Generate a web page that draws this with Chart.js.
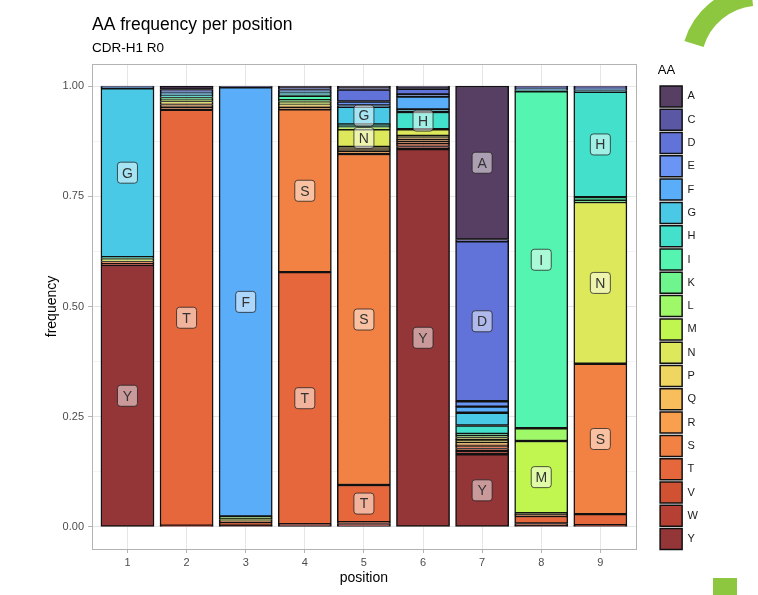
<!DOCTYPE html>
<html>
<head>
<meta charset="utf-8">
<script src="https://cdn.jsdelivr.net/npm/chart.js@4/dist/chart.umd.min.js"></script>
<style>
  html, body { margin: 0; padding: 0; background: #fff; overflow: hidden; }
  #wrap { position: relative; width: 758px; height: 595px; }
  #aa { position: absolute; left: 0; top: 0; }
  #deco { position: absolute; left: 0; top: 0; pointer-events: none; }
</style>
</head>
<body>
<div id="wrap">
  <canvas id="aa" width="758" height="595"></canvas>
  <svg id="deco" width="758" height="595">
    <path d="M 694 44 A 68 68 0 0 1 752 -4" fill="none" stroke="#8dc63f" stroke-width="20"/>
    <rect x="713" y="578" width="24" height="17" fill="#8dc63f"/>
  </svg>
</div>
<script>
// AA frequency per position, CDR-H1 R0 – gestapelte Anteile je Aminosäure

const titleText = 'AA frequency per position';
const subtitleText = 'CDR-H1 R0';

const positions = [1, 2, 3, 4, 5, 6, 7, 8, 9];
const aminoAcids = ['A', 'C', 'D', 'E', 'F', 'G', 'H', 'I', 'K', 'L', 'M', 'N', 'P', 'Q', 'R', 'S', 'T', 'V', 'W', 'Y'];
const yMajor = [0, 0.25, 0.5, 0.75, 1];
const yMinor = [0.125, 0.375, 0.625, 0.875];

// Anteile pro Position 1..9
const freqA = [0.001, 0.008, 0.001, 0.004, 0.004, 0.003, 0.348, 0.002, 0.002];
const freqC = [0, 0, 0, 0, 0.004, 0.003, 0.004, 0, 0.001];
const freqD = [0.002, 0.003, 0.002, 0.004, 0.027, 0.013, 0.363, 0.002, 0.002];
const freqE = [0, 0.003, 0, 0.003, 0.009, 0.005, 0.012, 0, 0.002];
const freqF = [0.002, 0.004, 0.973, 0.003, 0.003, 0.029, 0.014, 0.006, 0.003];
const freqG = [0.383, 0.004, 0, 0.004, 0.040, 0.006, 0.029, 0, 0.003];
const freqH = [0.003, 0.004, 0, 0.004, 0.003, 0.039, 0.019, 0.002, 0.239];
const freqI = [0, 0, 0, 0.010, 0.002, 0, 0.004, 0.764, 0.008];
const freqK = [0, 0.006, 0, 0.003, 0, 0, 0, 0, 0.003];
const freqL = [0.003, 0, 0.005, 0, 0.003, 0, 0.004, 0.029, 0];
const freqM = [0, 0.003, 0.002, 0.003, 0.003, 0, 0, 0.164, 0];
const freqN = [0.004, 0.004, 0.003, 0.005, 0.040, 0.015, 0.005, 0.003, 0.367];
const freqP = [0, 0, 0, 0.003, 0.005, 0.005, 0.007, 0, 0];
const freqQ = [0, 0.003, 0, 0.002, 0.004, 0.003, 0.003, 0, 0];
const freqR = [0, 0.006, 0, 0.005, 0.007, 0.004, 0.003, 0, 0];
const freqS = [0.005, 0.006, 0.003, 0.369, 0.751, 0.005, 0.003, 0.003, 0.341];
const freqT = [0, 0.943, 0.008, 0.572, 0.084, 0.004, 0.004, 0.017, 0.025];
const freqV = [0, 0, 0, 0, 0.003, 0.003, 0.006, 0.005, 0];
const freqW = [0.003, 0.001, 0, 0.002, 0.003, 0.006, 0.007, 0, 0.001];
const freqY = [0.594, 0.002, 0.003, 0.004, 0.005, 0.857, 0.165, 0.003, 0.003];

const freqs = [freqA, freqC, freqD, freqE, freqF, freqG, freqH, freqI, freqK, freqL,
               freqM, freqN, freqP, freqQ, freqR, freqS, freqT, freqV, freqW, freqY];

const colors = [
  '#573f63', '#5a58a4', '#6172d8', '#6b95f5', '#5aadf8', '#4ac9e6', '#43e0cc',
  '#55f4b0', '#6ef58d', '#9ef868', '#c1f650', '#dde95b', '#efd660', '#f9be5c',
  '#f9a04f', '#f28244', '#e5673b', '#d15233', '#b74035', '#943537'
];

const labelMin = 0.035;
const fontFam = '"Liberation Sans", Arial, Helvetica, sans-serif';
Chart.defaults.font.family = fontFam;

// Y unten, A oben; Nullwerte werden nicht gezeichnet
const datasets = aminoAcids.map((aa, i) => ({
  label: aa,
  data: freqs[i].map((v, j) => ({ x: positions[j], y: v > 0 ? v : null })),
  backgroundColor: colors[i],
  borderColor: '#111',
  borderWidth: 1.5,
  borderSkipped: false,
  inflateAmount: 0.3,
  barPercentage: 0.9,
  categoryPercentage: 1
})).reverse();

const titlePlugin = {
  id: 'plotTitle',
  afterDraw(chart) {
    const { ctx, chartArea } = chart;
    ctx.save();
    ctx.fillStyle = '#000';
    ctx.textAlign = 'left';
    ctx.textBaseline = 'alphabetic';
    ctx.font = '17.5px ' + fontFam;
    ctx.fillText(titleText, chartArea.left, 30);
    ctx.font = '13.5px ' + fontFam;
    ctx.fillText(subtitleText, chartArea.left, 52);
    ctx.restore();
  }
};

const panelPlugin = {
  id: 'panelBorder',
  afterDatasetsDraw(chart) {
    const { ctx, chartArea: a } = chart;
    ctx.save();
    ctx.strokeStyle = '#b3b3b3';
    ctx.lineWidth = 1;
    ctx.strokeRect(Math.round(a.left) + 0.5, Math.round(a.top) + 0.5,
                   Math.round(a.right - a.left), Math.round(a.bottom - a.top));
    ctx.restore();
  }
};

const labelPlugin = {
  id: 'segmentLabels',
  afterDatasetsDraw(chart) {
    const ctx = chart.ctx;
    chart.data.datasets.forEach((ds, i) => {
      const meta = chart.getDatasetMeta(i);
      meta.data.forEach((bar, j) => {
        const v = ds.data[j].y;
        if (v === null || v < labelMin) return;
        const { x, y, base } = bar.getProps(['x', 'y', 'base'], true);
        const cy = (y + base) / 2;
        ctx.save();
        ctx.beginPath();
        ctx.roundRect(x - 10, cy - 10.5, 20, 21, 3);
        ctx.fillStyle = 'rgba(255,255,255,0.5)';
        ctx.fill();
        ctx.strokeStyle = 'rgba(30,30,30,0.75)';
        ctx.lineWidth = 1;
        ctx.stroke();
        ctx.fillStyle = '#333';
        ctx.font = '14px ' + fontFam;
        ctx.textAlign = 'center';
        ctx.textBaseline = 'middle';
        ctx.fillText(ds.label, x, cy + 1);
        ctx.restore();
      });
    });
  }
};

new Chart(document.getElementById('aa'), {
  type: 'bar',
  data: { datasets },
  plugins: [titlePlugin, panelPlugin, labelPlugin],
  options: {
    responsive: false,
    animation: false,
    layout: { padding: { top: 64, left: 40, right: 50, bottom: 4 } },
    plugins: {
      tooltip: { enabled: false },
      legend: {
        position: 'right',
        align: 'start',
        reverse: true,
        title: {
          display: true, text: 'AA', color: '#000', position: 'start',
          font: { size: 13 }, padding: { top: 0, bottom: 4 }
        },
        labels: {
          boxWidth: 22, boxHeight: 21, padding: 2.3,
          color: '#1a1a1a', font: { size: 11 }
        }
      }
    },
    scales: {
      x: {
        type: 'linear', stacked: true, min: 0.4, max: 9.6,
        offset: false,
        afterBuildTicks(s) { s.ticks = positions.map(p => ({ value: p })); },
        afterFit(s) { s.height = 42; },
        ticks: { color: '#4d4d4d', font: { size: 11 }, padding: 3, autoSkip: false, maxRotation: 0,
                 callback: v => String(v) },
        grid: { offset: false, color: '#e6e6e6', tickLength: 4, tickColor: '#b3b3b3' },
        border: { display: false },
        title: { display: true, text: 'position', color: '#000', font: { size: 14 },
                 padding: { top: 2, bottom: 4 } }
      },
      y: {
        type: 'linear', stacked: true, min: -0.05, max: 1.05,
        afterBuildTicks(s) {
          s.ticks = yMajor.concat(yMinor).sort((a, b) => a - b).map(v => ({ value: v }));
        },
        afterFit(s) { s.width = 52; },
        ticks: { color: '#4d4d4d', font: { size: 11 }, padding: 4, autoSkip: false,
                 callback: v => yMajor.includes(v) ? v.toFixed(2) : '' },
        grid: {
          color: c => yMajor.includes(c.tick && c.tick.value) ? '#e6e6e6' : '#f3f3f3',
          tickLength: 4,
          tickColor: c => yMajor.includes(c.tick && c.tick.value) ? '#b3b3b3' : 'rgba(0,0,0,0)'
        },
        border: { display: false },
        title: { display: true, text: 'frequency', color: '#000', font: { size: 14 },
                 padding: { top: 4, bottom: 4 } }
      },
      gap: {
        type: 'linear', position: 'right', display: true,
        afterFit(s) { s.width = 22; },
        ticks: { display: false },
        grid: { display: false, drawTicks: false },
        border: { display: false }
      }
    }
  }
});
</script>
</body>
</html>
